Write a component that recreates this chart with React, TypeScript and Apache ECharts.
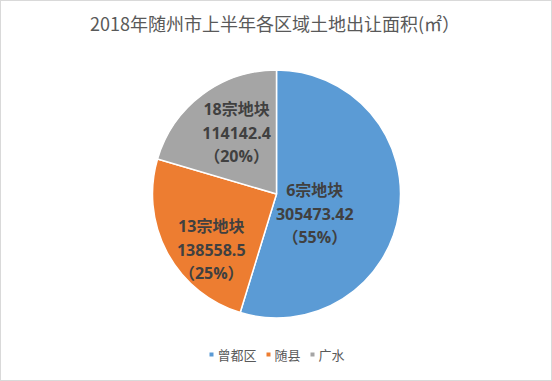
import React, { useEffect, useRef } from "react";
import * as echarts from "echarts";

const names = ["曾都区", "随县", "广水"];
const values = [305473.42, 138558.5, 114142.4];
const parcels = [6, 13, 18];
const percents = [55, 25, 20];
const colors = ["#5B9BD5", "#ED7D31", "#A5A5A5"];
const labelOffsets = [[-26, 10], [-8, 25], [-1, -9]];

export default function App() {
  const ref = useRef<HTMLDivElement>(null);
  useEffect(() => {
    const chart = echarts.init(ref.current!, null, { renderer: "svg" });
    chart.setOption({
      animation: false,
      backgroundColor: "#fff",
      title: {
        text: "2018年随州市上半年各区域土地出让面积(㎡）",
        left: 84,
        top: 8,
        textStyle: {
          fontFamily: "Noto Sans CJK SC",
          fontSize: 18,
          fontWeight: "normal",
          color: "#595959",
        },
      },
      legend: {
        bottom: 14,
        left: "center",
        itemWidth: 6,
        itemHeight: 6,
        itemGap: 8,
        icon: "rect",
        textStyle: { fontFamily: "Noto Sans CJK SC", fontSize: 13, color: "#595959", padding: [0, 0, 0, -2] },
        data: names,
      },
      series: [
        {
          type: "pie",
          center: [275.5, 193],
          radius: [0, 124],
          startAngle: 90,
          clockwise: true,
          avoidLabelOverlap: false,
          itemStyle: { borderColor: "#fff", borderWidth: 1.5 },
          label: {
            show: true,
            position: "inside",
            fontFamily: "'Open Sans', 'Noto Sans CJK SC'",
            fontWeight: "bold",
            fontSize: 16,
            lineHeight: 23.5,
            color: "#404040",
            align: "center",
          },
          labelLine: { show: false },
          emphasis: { disabled: true },
          data: names.map((n, i) => ({
            name: n,
            value: values[i],
            itemStyle: { color: colors[i] },
            label: {
              offset: labelOffsets[i],
              formatter: () => `${parcels[i]}宗地块\n${values[i]}\n（${percents[i]}%）`,
            },
          })),
        },
      ],
    });
    return () => chart.dispose();
  }, []);
  return (
    <div
      ref={ref}
      style={{
        position: "fixed",
        left: 0,
        top: 0,
        width: 550,
        height: 379,
        border: "1px solid #d9d9d9",
        background: "#fff",
      }}
    />
  );
}
